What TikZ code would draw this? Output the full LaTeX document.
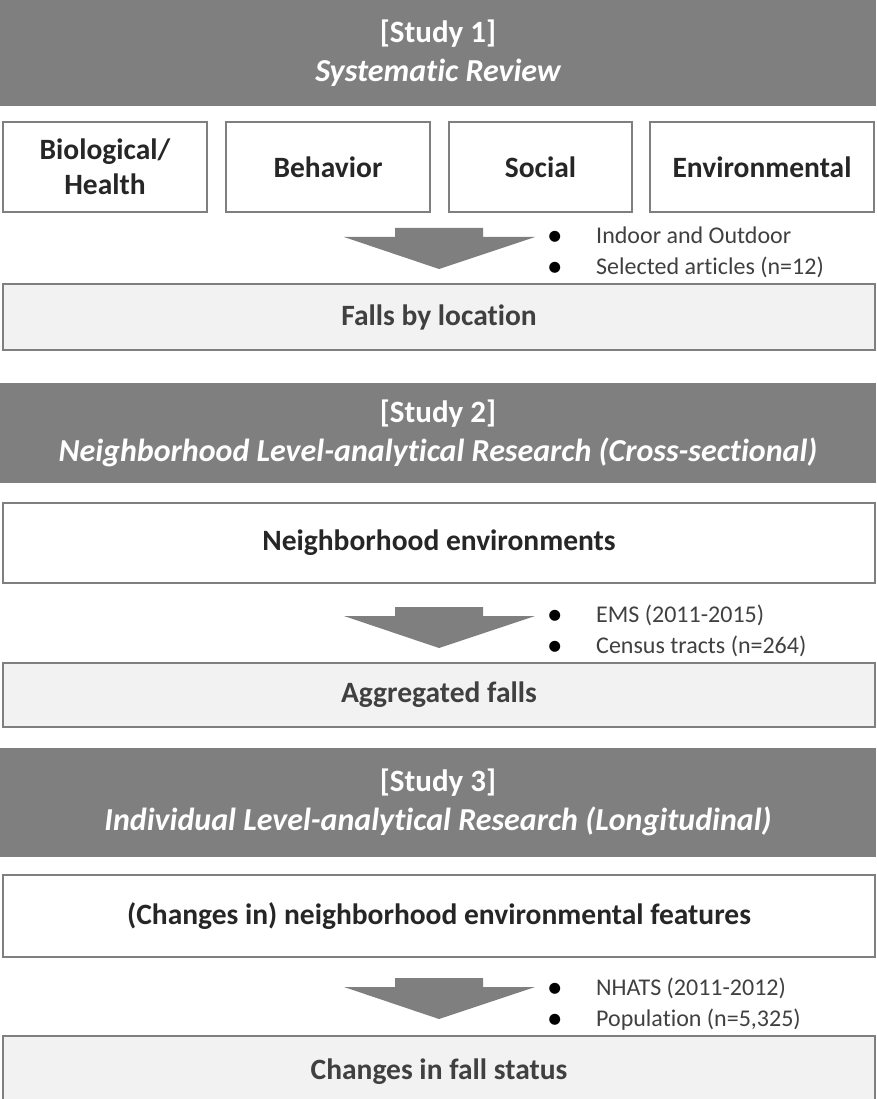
\documentclass[tikz,border=0pt]{standalone}
\usepackage{fontspec}
\setmainfont{Carlito}[Ligatures=NoCommon]

\definecolor{studygray}{HTML}{7F7F7F}
\definecolor{lightfill}{HTML}{F2F2F2}
\definecolor{darktext}{HTML}{262626}
\definecolor{softtext}{HTML}{404040}

\newcommand\bulletrow[1]{\makebox[49pt][l]{\color{black}\raisebox{-2pt}{\fontsize{31}{31}\selectfont\textbullet}}#1}
\newcommand\studyline[1]{{\fontsize{32}{38}\selectfont\itshape #1}}

\tikzset{
  study/.style={fill=studygray, text=white, minimum width=876pt, align=center,
    inner sep=0pt, font=\fontsize{31}{39}\selectfont\bfseries},
  factor/.style={draw=studygray, line width=1.5pt, fill=white, align=center,
    inner sep=0pt, text=darktext, font=\fontsize{29.5}{35}\selectfont\bfseries},
  outcome/.style={draw=studygray, line width=2pt, fill=lightfill, minimum width=872pt,
    inner sep=0pt, text=softtext, font=\fontsize{29.5}{35}\selectfont\bfseries},
  datanote/.style={anchor=west, align=left, inner sep=0pt, text=softtext,
    font=\fontsize{24}{31}\selectfont},
  fallarrow/.pic={
    \fill[studygray] (-44,0) -- (44,0) -- (44,9) -- (96,9) -- (0,41)
      -- (-95,9) -- (-44,9) -- cycle;
  }
}

\begin{document}
\begin{tikzpicture}[x=1pt, y=-1pt]
  \useasboundingbox (0,0) rectangle (876,1099);

  \node[study, minimum height=106pt] (study1) at (438,53)
    {[Study 1]\\\studyline{Systematic Review}};
  \node[factor, minimum width=204pt, minimum height=90pt] (biological) at (105,167)
    {Biological/\\Health};
  \node[factor, minimum width=204pt, minimum height=90pt] (behavior) at (328,167)
    {Behavior};
  \node[factor, minimum width=183pt, minimum height=90pt] (social) at (540.5,167)
    {Social};
  \node[factor, minimum width=224pt, minimum height=90pt] (environmental) at (762,167)
    {Environmental};
  \pic at (439,228) {fallarrow};
  \node[datanote] (review) at (547,252)
    {\bulletrow{Indoor and Outdoor}\\\bulletrow{Selected articles (n=12)}};
  \node[outcome, minimum height=66pt] (location) at (439,317)
    {Falls by location};

  \node[study, minimum height=100pt] (study2) at (438,433)
    {[Study 2]\\\studyline{Neighborhood Level-analytical Research (Cross-sectional)}};
  \node[factor, minimum width=872pt, minimum height=80pt] (neighborhood) at (439,543)
    {Neighborhood environments};
  \pic at (439,607) {fallarrow};
  \node[datanote] (ems) at (547,631)
    {\bulletrow{EMS (2011-2015)}\\\bulletrow{Census tracts (n=264)}};
  \node[outcome, minimum height=64pt] (aggregated) at (439,695)
    {Aggregated falls};

  \node[study, minimum height=109pt] (study3) at (438,802.5)
    {[Study 3]\\\studyline{Individual Level-analytical Research (Longitudinal)}};
  \node[factor, minimum width=872pt, minimum height=82pt] (features) at (439,916)
    {(Changes in) neighborhood environmental features};
  \pic at (439,978) {fallarrow};
  \node[datanote] (nhats) at (547,1004)
    {\bulletrow{NHATS (2011-2012)}\\\bulletrow{Population (n=5,325)}};
  \node[outcome, minimum height=72pt] (status) at (439,1072)
    {Changes in fall status};
\end{tikzpicture}
\end{document}
